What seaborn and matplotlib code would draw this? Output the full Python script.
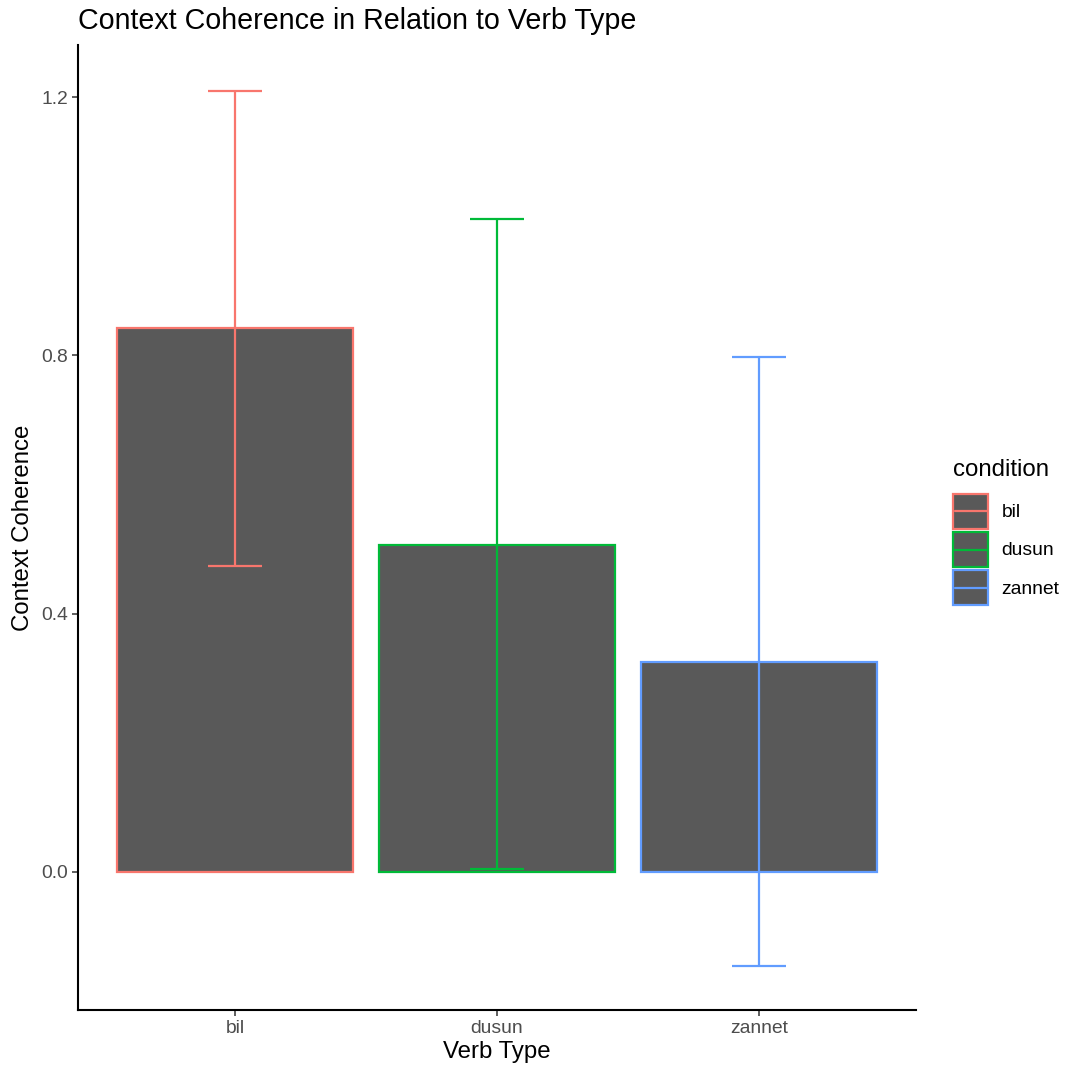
import numpy as np
import pandas as pd
import matplotlib
matplotlib.use("Agg")
import matplotlib.pyplot as plt
import seaborn as sns
from matplotlib.patches import Rectangle
from matplotlib.lines import Line2D
from matplotlib.legend_handler import HandlerBase

# summary values
verbs = ["bil", "dusun", "zannet"]
means = [0.842, 0.506, 0.325]
err_low = [0.474, 0.005, -0.146]
err_high = [1.209, 1.011, 0.797]
colors = ["#F8766D", "#00BA38", "#619CFF"]
bar_fill = "#595959"

df = pd.DataFrame({"verb": verbs, "mean": means, "lo": err_low, "hi": err_high})


# legend key: filled box with coloured outline and a line through the middle
class BoxLineHandler(HandlerBase):
    def create_artists(self, legend, orig_handle, xdescent, ydescent,
                       width, height, fontsize, trans):
        col = orig_handle.get_color()
        box = Rectangle((-xdescent, -ydescent), width, height,
                        facecolor=bar_fill, edgecolor=col, linewidth=1.6,
                        transform=trans)
        ymid = -ydescent + height / 2
        line = Line2D([-xdescent + 1, -xdescent + width - 1], [ymid, ymid],
                      color=col, linewidth=1.6, transform=trans)
        return [box, line]


sns.set_theme(style="ticks")
plt.rcParams["font.family"] = ["Liberation Sans", "DejaVu Sans"]
plt.rcParams["text.color"] = "black"

fig = plt.figure(figsize=(10.67, 10.71), dpi=100)
ax = fig.add_axes([0.0731, 0.057, 0.7854, 0.901])

sns.barplot(data=df, x="verb", y="mean", color=bar_fill, saturation=1,
            width=0.9, linewidth=1.6, ax=ax, zorder=2)
for patch, col in zip(ax.patches, colors):
    patch.set_edgecolor(col)
    patch.set_facecolor(bar_fill)

# error bars
for i, row in df.iterrows():
    ax.errorbar(i, row["mean"],
                yerr=[[row["mean"] - row["lo"]], [row["hi"] - row["mean"]]],
                fmt="none", ecolor=colors[i], elinewidth=1.6,
                capsize=19.5, capthick=1.6, zorder=3)

ax.set_xlim(-0.6, 2.6)
ax.set_ylim(-0.2137, 1.2806)
ax.set_yticks([0.0, 0.4, 0.8, 1.2])
ax.set_yticklabels(["0.0", "0.4", "0.8", "1.2"])
ax.tick_params(axis="both", labelsize=13.9, labelcolor="#4D4D4D",
               length=4, width=1.1, color="#333333", pad=3)
for side in ["top", "right"]:
    ax.spines[side].set_visible(False)
for side in ["left", "bottom"]:
    ax.spines[side].set_linewidth(1.5)
    ax.spines[side].set_color("black")

ax.set_xlabel("Verb Type", fontsize=17.3, color="black", labelpad=3)
ax.set_ylabel("Context Coherence", fontsize=17.3, color="black", labelpad=5)
fig.text(0.0731, 0.980, "Context Coherence in Relation to Verb Type",
         fontsize=20.6, ha="left", va="center", color="black")

handles = [Line2D([], [], color=c) for c in colors]
leg = fig.legend(handles, verbs, title="condition", loc="center left",
                 bbox_to_anchor=(0.8934, 0.503), frameon=False,
                 fontsize=13.9, title_fontsize=17.3,
                 handler_map={Line2D: BoxLineHandler()},
                 handlelength=1.8, handleheight=2.45, labelspacing=0.14,
                 handletextpad=0.7, borderaxespad=0, borderpad=0,
                 alignment="left", labelcolor="black")
leg.get_title().set_color("black")
leg._legend_box.sep = 9

fig.savefig("out.png", dpi=100)
